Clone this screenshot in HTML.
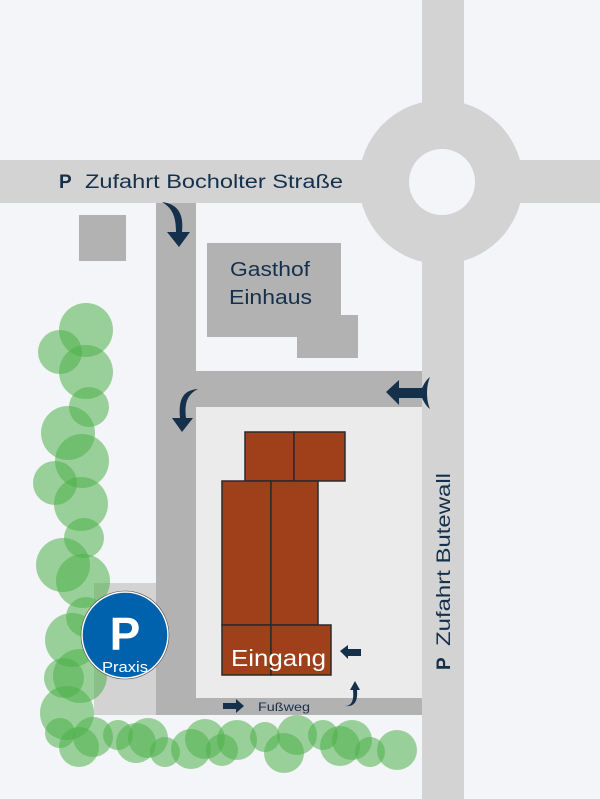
<!DOCTYPE html>
<html><head><meta charset="utf-8"><style>
html,body{margin:0;padding:0;background:#f4f5f9;}
svg{display:block;}
text{font-family:"Liberation Sans",sans-serif;}
</style></head><body>
<svg width="600" height="799" viewBox="0 0 600 799" xmlns="http://www.w3.org/2000/svg">
<rect width="600" height="799" fill="#f4f5f9"/>
<rect x="0" y="160" width="600" height="43" fill="#d3d3d3"/>
<rect x="422" y="0" width="42" height="799" fill="#d3d3d3"/>
<circle cx="441" cy="182" r="82" fill="#d3d3d3"/>
<circle cx="442" cy="182" r="33" fill="#f4f5f9"/>
<rect x="79" y="215" width="47" height="46" fill="#b3b2b2"/>
<rect x="94" y="583" width="62" height="132" fill="#d3d3d3"/>
<rect x="156" y="203" width="40" height="512" fill="#b3b2b2"/>
<rect x="196" y="371" width="226" height="36" fill="#b3b2b2"/>
<rect x="156" y="698" width="266" height="17" fill="#b3b2b2"/>
<rect x="196" y="407" width="226" height="291" fill="#ebebeb"/>
<polygon points="207,243 341,243 341,315 358,315 358,358 297,358 297,337 207,337" fill="#b3b2b2"/>
<text x="230" y="276" font-size="20" fill="#15304b" textLength="80" lengthAdjust="spacingAndGlyphs">Gasthof</text>
<text x="229" y="304" font-size="20" fill="#15304b" textLength="83" lengthAdjust="spacingAndGlyphs">Einhaus</text>
<g fill="#a0401a" stroke="#2a2a2a" stroke-width="1.5">
<rect x="245" y="432" width="49" height="49"/>
<rect x="294" y="432" width="51" height="49"/>
<rect x="222" y="481" width="49" height="144"/>
<rect x="271" y="481" width="47" height="144"/>
<rect x="222" y="625" width="49" height="50"/>
<rect x="271" y="625" width="60" height="50"/>
</g>
<text x="231" y="666" font-size="23" fill="#fff" textLength="95" lengthAdjust="spacingAndGlyphs">Eingang</text>
<g fill="#15304b">
<path d="M162,202 C178,204 184,214 182,232 L190,232 L179,247 L167,232 L176,232 C176,216 172,208 162,202 Z"/>
<path d="M198,389 C184,390 178,398 180,418 L172,418 L182,432 L193,418 L186,418 C184,402 188,394 198,389 Z"/>
<path d="M386,392 L399,380 L399,388 L422,388 C424,384 426,380 430,377 C426,386 426,400 430,409 C426,406 424,402 422,398 L399,398 L399,405 Z"/>
<path d="M340,651 L348,645 L348,649 L361,649 L361,656 L348,656 L348,659 Z"/>
<path d="M223,703 L236,703 L236,699 L244,706 L236,713 L236,709 L223,709 Z"/>
<path d="M345,706 C352,706 354,700 353,690 L350,690 L355,681 L360,690 L357,690 C358,702 354,707 345,706 Z"/>
</g>
<text x="258" y="711" font-size="12" fill="#15304b" textLength="52" lengthAdjust="spacingAndGlyphs">Fußweg</text>
<text x="59" y="188" font-size="19" font-weight="bold" fill="#15304b">P</text>
<text x="85" y="188" font-size="19" fill="#15304b" textLength="258" lengthAdjust="spacingAndGlyphs">Zufahrt Bocholter Straße</text>
<text transform="translate(450,670) rotate(-90)" font-size="19" fill="#15304b"><tspan font-weight="bold">P</tspan><tspan x="24" textLength="173" lengthAdjust="spacingAndGlyphs">Zufahrt Butewall</tspan></text>
<g fill="#4fb04a" fill-opacity="0.55">
<circle cx="86" cy="330" r="27"/><circle cx="60" cy="352" r="22"/><circle cx="86" cy="372" r="27"/>
<circle cx="89" cy="407" r="20"/><circle cx="68" cy="433" r="27"/><circle cx="82" cy="461" r="27"/>
<circle cx="55" cy="483" r="22"/><circle cx="81" cy="504" r="27"/><circle cx="84" cy="538" r="20"/>
<circle cx="63" cy="565" r="27"/><circle cx="83" cy="581" r="27"/><circle cx="86" cy="617" r="20"/>
<circle cx="72" cy="640" r="27"/><circle cx="80" cy="676" r="27"/><circle cx="64" cy="678" r="20"/>
<circle cx="67" cy="713" r="27"/><circle cx="60" cy="733" r="15"/><circle cx="79" cy="747" r="20"/>
<circle cx="93" cy="737" r="20"/>
<circle cx="118" cy="735" r="15"/><circle cx="136" cy="743" r="20"/><circle cx="148" cy="738" r="20"/>
<circle cx="165" cy="752" r="15"/><circle cx="191" cy="749" r="20"/><circle cx="205" cy="739" r="20"/>
<circle cx="222" cy="750" r="16"/><circle cx="237" cy="740" r="20"/><circle cx="265" cy="737" r="15"/>
<circle cx="284" cy="753" r="20"/><circle cx="297" cy="735" r="20"/><circle cx="323" cy="735" r="15"/>
<circle cx="340" cy="746" r="20"/><circle cx="352" cy="740" r="20"/><circle cx="370" cy="752" r="15"/>
<circle cx="397" cy="750" r="20"/>
</g>
<circle cx="125" cy="635" r="43" fill="#0061ad" stroke="#fff" stroke-width="1.5"/>
<circle cx="125" cy="635" r="44" fill="none" stroke="#555" stroke-width="0.6"/>
<text x="125" y="650" font-size="46" font-weight="bold" fill="#fff" text-anchor="middle">P</text>
<text x="102" y="672" font-size="15" fill="#fff" textLength="46" lengthAdjust="spacingAndGlyphs">Praxis</text>
</svg>
</body></html>
